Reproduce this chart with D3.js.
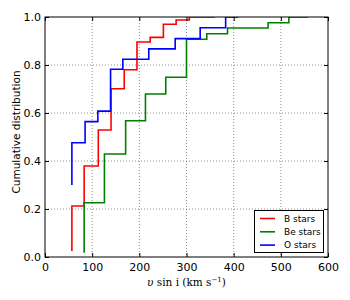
<!DOCTYPE html>
<html>
<head>
<meta charset="utf-8">
<script src="https://cdn.jsdelivr.net/npm/d3@7.9.0/dist/d3.min.js"></script>
<style>
  body { margin: 0; background: #fff; }
  svg text { font-family: "DejaVu Sans", sans-serif; }
</style>
</head>
<body>
<div id="chart"></div>
<script>
// data (step points, curveStepBefore)
const bX = [57, 83, 113, 140, 168, 195, 223, 251, 278, 306, 360];
const bY = [0.025, 0.2125, 0.379, 0.529, 0.701, 0.78, 0.896, 0.915, 0.97, 0.9875, 1.0];
const beX = [83, 126, 171, 213, 256, 300, 343, 387, 473, 517, 557];
const beY = [0.018, 0.226, 0.429, 0.568, 0.679, 0.749, 0.907, 0.93, 0.954, 0.976, 1.0];
const oX = [57, 85, 112, 139, 165, 220, 276, 329, 383, 410];
const oY = [0.30, 0.476, 0.564, 0.608, 0.782, 0.824, 0.867, 0.91, 0.955, 1.0];

const seriesNames = ['B stars', 'Be stars', 'O stars'];
const seriesColors = ['#ff0000', '#008000', '#0000ff'];
const xTicks = [0, 100, 200, 300, 400, 500, 600];
const yTicks = [0.0, 0.2, 0.4, 0.6, 0.8, 1.0];

const series = [
  { name: seriesNames[0], color: seriesColors[0], pts: bX.map((x, i) => [x, bY[i]]) },
  { name: seriesNames[1], color: seriesColors[1], pts: beX.map((x, i) => [x, beY[i]]) },
  { name: seriesNames[2], color: seriesColors[2], pts: oX.map((x, i) => [x, oY[i]]) },
];

const width = 350, height = 300;
const margin = { top: 17, right: 22, bottom: 43, left: 45 };
const inner = {
  left: margin.left, right: width - margin.right,
  top: margin.top, bottom: height - margin.bottom,
};

const svg = d3.select('#chart').append('svg')
  .attr('width', width).attr('height', height);

const x = d3.scaleLinear().domain([0, 600]).range([inner.left, inner.right]);
const y = d3.scaleLinear().domain([0, 1]).range([inner.bottom, inner.top]);

svg.append('defs').append('clipPath').attr('id', 'clip')
  .append('rect')
  .attr('x', inner.left).attr('y', inner.top)
  .attr('width', inner.right - inner.left).attr('height', inner.bottom - inner.top);

// grid
const grid = svg.append('g').attr('stroke', '#000').attr('stroke-opacity', 0.55)
  .attr('stroke-dasharray', '1,2').attr('stroke-width', 0.8);
grid.selectAll('line.gx').data(xTicks.slice(1, -1)).join('line')
  .attr('x1', d => x(d)).attr('x2', d => x(d))
  .attr('y1', inner.top).attr('y2', inner.bottom);
grid.selectAll('line.gy').data(yTicks.slice(1, -1)).join('line')
  .attr('y1', d => y(d)).attr('y2', d => y(d))
  .attr('x1', inner.left).attr('x2', inner.right);

// steps
const line = d3.line().x(d => x(d[0])).y(d => y(d[1])).curve(d3.curveStepBefore);
svg.append('g').attr('clip-path', 'url(#clip)')
  .selectAll('path').data(series).join('path')
  .attr('d', d => line(d.pts))
  .attr('fill', 'none')
  .attr('stroke', d => d.color)
  .attr('stroke-width', 1.6);

// axes, ticks inward on all sides
const fmtY = d3.format('.1f');
const axB = svg.append('g').attr('transform', `translate(0,${inner.bottom})`)
  .call(d3.axisBottom(x).tickValues(xTicks).tickSizeInner(-4).tickSizeOuter(0).tickPadding(6));
const axT = svg.append('g').attr('transform', `translate(0,${inner.top})`)
  .call(d3.axisTop(x).tickValues(xTicks).tickSizeInner(-4).tickSizeOuter(0).tickFormat(''));
const axL = svg.append('g').attr('transform', `translate(${inner.left},0)`)
  .call(d3.axisLeft(y).tickValues(yTicks).tickFormat(fmtY).tickSizeInner(-4).tickSizeOuter(0).tickPadding(4));
const axR = svg.append('g').attr('transform', `translate(${inner.right},0)`)
  .call(d3.axisRight(y).tickValues(yTicks).tickSizeInner(-4).tickSizeOuter(0).tickFormat(''));
[axB, axT, axL, axR].forEach(a => {
  a.select('.domain').remove();
  a.selectAll('text').attr('font-size', 11).attr('fill', '#000')
    .attr('font-family', '"DejaVu Sans", sans-serif');
  a.selectAll('line').attr('stroke', '#000');
});

svg.append('rect')
  .attr('x', inner.left).attr('y', inner.top)
  .attr('width', inner.right - inner.left).attr('height', inner.bottom - inner.top)
  .attr('fill', 'none').attr('stroke', '#000').attr('stroke-width', 1);

// labels
svg.append('text')
  .attr('transform', 'translate(17,132) rotate(-90)')
  .attr('text-anchor', 'middle').attr('dominant-baseline', 'middle')
  .attr('font-size', 10.5).text('Cumulative distribution');

const xl = svg.append('text')
  .attr('x', (inner.left + inner.right) / 2).attr('y', 286)
  .attr('text-anchor', 'middle')
  .attr('font-family', '"DejaVu Serif", serif').attr('font-size', 10.5)
  .style('font-family', '"DejaVu Serif", serif');
xl.append('tspan').attr('font-style', 'italic').text('υ');
xl.append('tspan').text(' sin i (km s');
xl.append('tspan').attr('font-size', 7).attr('dy', -4).text('−1');
xl.append('tspan').attr('dy', 4).text(')');

// legend
const lg = svg.append('g');
lg.append('rect')
  .attr('x', 254.5).attr('y', 210.5).attr('width', 69).attr('height', 42)
  .attr('fill', '#fff').attr('stroke', '#000').attr('stroke-width', 1);
const rows = lg.selectAll('g.row').data(series).join('g')
  .attr('transform', (d, i) => `translate(0,${218.5 + i * 13.3})`);
rows.append('line').attr('x1', 260).attr('x2', 275)
  .attr('stroke', d => d.color).attr('stroke-width', 1.6);
rows.append('text').attr('x', 284).attr('dy', '0.35em')
  .attr('font-size', 9).text(d => d.name);
</script>
</body>
</html>
